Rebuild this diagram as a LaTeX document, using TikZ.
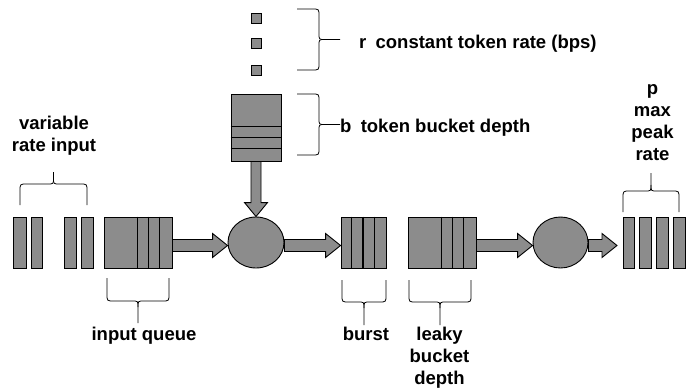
\documentclass[tikz,border=0pt]{standalone}
\usepackage{fontspec}
\setmainfont{Liberation Sans}
\usetikzlibrary{calc,backgrounds,shapes.geometric}
\definecolor{pkfill}{RGB}{140,140,140}

\tikzset{
  pkt/.style={draw=black, line width=0.9pt, fill=pkfill, inner sep=0pt, minimum height=51pt},
  tok/.style={draw=black, line width=0.8pt, fill=pkfill, inner sep=0pt, minimum width=10pt, minimum height=10pt},
  srv/.style={draw=black, line width=0.9pt, fill=pkfill, ellipse, inner sep=0pt},
  blk/.style={draw=black, line width=0.9pt, fill=pkfill, line join=miter},
  sepline/.style={line width=1.3pt},
  brc/.style={line width=0.8pt, line join=round},
  lbl/.style={font=\fontsize{18.5}{22}\selectfont\bfseries, inner sep=0pt, align=center},
}

% horizontal curly brace: x1, x2, y of the ends, y of the bar, y of the tip
\newcommand\hbrc[5]{%
  \pgfmathsetmacro\bm{(#1+#2)/2}%
  \pgfmathsetmacro\bs{sign(#4-#3)}%
  \pgfmathsetmacro\bea{#4-7*\bs}%
  \pgfmathsetmacro\beb{#4+6*\bs}%
  \draw[brc] (#1,#3) -- (#1,\bea) .. controls (#1,#4) .. ({#1+7},#4)
    -- ({\bm-6},#4) .. controls (\bm,#4) .. (\bm,\beb) -- (\bm,#5);
  \draw[brc] (#2,#3) -- (#2,\bea) .. controls (#2,#4) .. ({#2-7},#4)
    -- ({\bm+6},#4) .. controls (\bm,#4) .. (\bm,\beb);
}
% vertical curly brace: y1, y2, x of the ends, x of the bar, x of the tip
\newcommand\vbrc[5]{%
  \pgfmathsetmacro\bm{(#1+#2)/2}%
  \pgfmathsetmacro\bs{sign(#4-#3)}%
  \pgfmathsetmacro\bea{#4-7*\bs}%
  \pgfmathsetmacro\beb{#4+6*\bs}%
  \draw[brc] (#3,#1) -- (\bea,#1) .. controls (#4,#1) .. (#4,{#1+7})
    -- (#4,{\bm-6}) .. controls (#4,\bm) .. (\beb,\bm) -- (#5,\bm);
  \draw[brc] (#3,#2) -- (\bea,#2) .. controls (#4,#2) .. (#4,{#2-7})
    -- (#4,{\bm+6}) .. controls (#4,\bm) .. (\beb,\bm);
}
% horizontal block arrow between two points (shaft 12, head 24 x 15)
\newcommand\blockarrow[2]{%
  \draw[blk] let \p1=(#1), \p2=(#2) in
    (\x1,-239.5pt) -- ({\x2-15pt},-239.5pt) -- ({\x2-15pt},-233.5pt) -- (\x2,-245.5pt)
    -- ({\x2-15pt},-257.5pt) -- ({\x2-15pt},-251.5pt) -- (\x1,-251.5pt) -- cycle;
}

\begin{document}
\begin{tikzpicture}[x=1pt, y=-1pt]
\useasboundingbox (0,0) rectangle (693,389);

% tokens dripping into the bucket
\node[tok] (tk1) at (256,18) {};
\node[tok] (tk2) at (256,43) {};
\node[tok] (tk3) at (256,70.5) {};

% token bucket
\node[pkt, minimum width=50pt, minimum height=67pt] (tb) at (256,127.5) {};
\foreach \d in {33,44,55}
  \draw[sepline] ($(tb.north west)+(0,\d)$) -- ($(tb.north east)+(0,\d)$);

% variable rate input packets
\node[pkt, minimum width=13pt] (v1) at (19.5,242.5) {};
\node[pkt, minimum width=11pt] (v2) at (36.5,242.5) {};
\node[pkt, minimum width=12pt] (v3) at (70,242.5) {};
\node[pkt, minimum width=12pt] (v4) at (87,242.5) {};

% input queue
\node[pkt, minimum width=68pt] (iq) at (138,242.5) {};
\foreach \d in {34,45,56}
  \draw[sepline] ($(iq.north west)+(\d,0)$) -- ($(iq.south west)+(\d,0)$);

% token bucket server
\node[srv, minimum width=56pt, minimum height=51pt] (e1) at (256,242.5) {};

% burst
\node[pkt, minimum width=45pt] (bq) at (363.5,242.5) {};
\foreach \d in {11.25,22.5,33.75}
  \draw[sepline] ($(bq.north west)+(\d,0)$) -- ($(bq.south west)+(\d,0)$);

% leaky bucket
\node[pkt, minimum width=68pt] (lq) at (442,242.5) {};
\foreach \d in {34,45,56}
  \draw[sepline] ($(lq.north west)+(\d,0)$) -- ($(lq.south west)+(\d,0)$);

% leaky bucket server
\node[srv, minimum width=55pt, minimum height=51pt] (e2) at (560.5,242.5) {};

% output packets
\node[pkt, minimum width=11pt] (o1) at (628.5,242.5) {};
\node[pkt, minimum width=12pt] (o2) at (645,242.5) {};
\node[pkt, minimum width=12pt] (o3) at (662,242.5) {};
\node[pkt, minimum width=12pt] (o4) at (679,242.5) {};

\coordinate (outtip) at (617,245.5);

% block arrows, kept under the servers
\begin{scope}[on background layer]
  \blockarrow{iq.east}{e1.west}
  \blockarrow{e1.east}{bq.west}
  \blockarrow{lq.east}{e2.west}
  \blockarrow{e2.east}{outtip}
  \draw[blk] let \p1=(tb.south), \p2=(e1.north) in
    ({\x2-5pt},\y1) -- ({\x2-5pt},{\y2+14pt}) -- ({\x2-11.5pt},{\y2+14pt}) -- (\x2,\y2)
    -- ({\x2+11.5pt},{\y2+14pt}) -- ({\x2+5pt},{\y2+14pt}) -- ({\x2+5pt},\y1) -- cycle;
\end{scope}

% braces
\vbrc{9}{70}{297}{319}{340}
\vbrc{94}{155}{297}{319}{340}
\hbrc{20}{87}{205}{184}{172}
\hbrc{107}{169}{278}{301}{323}
\hbrc{342}{386}{280}{302}{325}
\hbrc{409}{471}{280}{302}{325}
\hbrc{623}{679}{212}{191}{173}

% labels
\node[lbl, anchor=base west] (lr) at (359,48) {r\enspace constant token rate (bps)};
\node[lbl, anchor=base west] (lbk) at (340,132) {b\enspace token bucket depth};
\node[lbl, anchor=north] (lvar) at (54,116) {variable\\rate input};
\node[lbl, anchor=base] (liq) at (144,340) {input queue};
\node[lbl, anchor=base] (lbu) at (366,340) {burst};
\node[lbl, anchor=north] (llk) at (439.5,326.5) {leaky\\bucket\\depth};
\node[lbl, anchor=north] (lp) at (652.5,84.5) {p\\max\\peak\\rate};
\end{tikzpicture}
\end{document}
